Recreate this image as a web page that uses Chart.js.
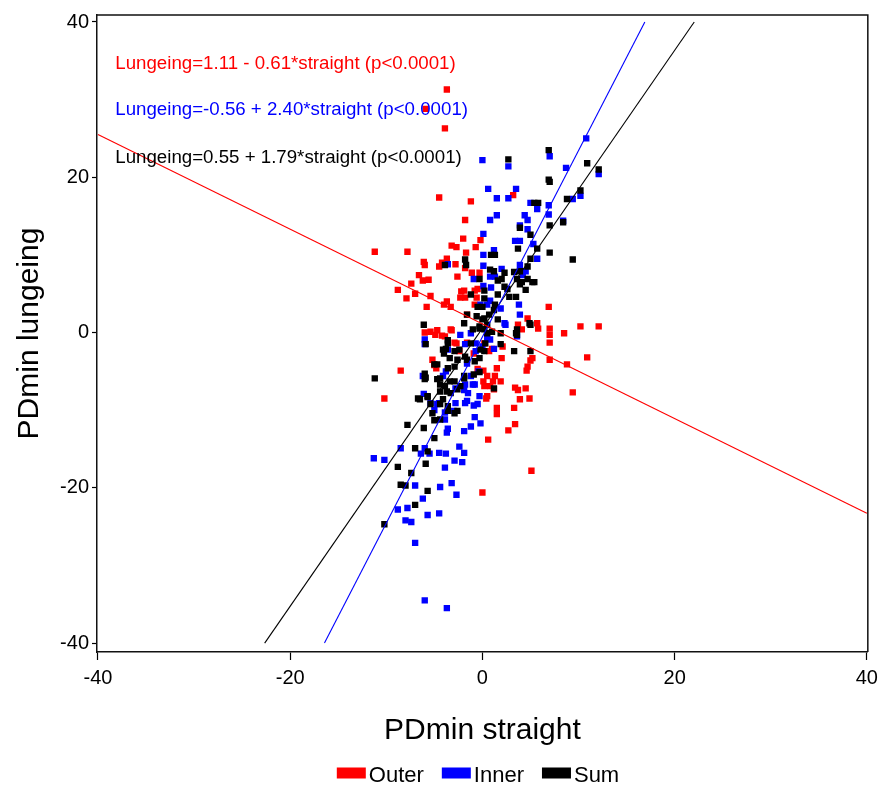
<!DOCTYPE html>
<html>
<head>
<meta charset="utf-8">
<script src="https://cdn.jsdelivr.net/npm/chart.js@4.4.1/dist/chart.umd.min.js"></script>
<style>
  html, body { margin: 0; padding: 0; background: #fff; }
  #wrap { width: 884px; height: 786px; }
</style>
</head>
<body>
<div id="wrap"><canvas id="chart-pdmin"></canvas></div>
<script>
// PDmin straight (x) vs PDmin lungeing (y)
var outerPts = [
  [-3.7,31.3],[-5.9,28.8],[-3.9,26.3],[3.2,17.7],[-4.5,17.4],[-1.2,16.9],[-1.8,14.5],[-2.0,12.1],
  [-3.2,11.2],[-2.7,11.0],[-1.7,10.3],[-0.7,11.0],[-0.2,11.9],[-11.2,10.4],[-7.8,10.4],[-6.1,9.1],
  [-6.0,8.7],[-4.2,9.0],[-3.7,9.5],[-4.5,8.5],[-2.8,8.8],[-1.8,8.3],[-6.6,7.4],[-7.4,6.3],
  [-6.2,6.7],[-5.6,6.8],[-2.6,7.2],[-1.1,7.7],[-0.3,7.7],[-8.8,5.5],[-7.0,5.0],[-5.4,4.7],
  [-2.2,5.3],[-0.8,5.4],[-1.8,4.5],[-0.6,4.5],[-2.3,4.5],[-3.7,4.0],[-7.9,4.4],[-5.8,3.3],
  [-4.0,3.6],[-3.3,3.3],[-1.9,5.4],[-0.5,5.6],[-0.8,3.6],[-1.6,2.3],[-6.0,0.0],[-5.4,0.1],
  [-4.9,-0.3],[-4.2,-0.4],[-3.2,0.3],[-2.7,-1.4],[-1.6,-1.3],[0.2,-1.4],[0.7,-2.4],[2.1,-1.8],
  [3.7,1.0],[4.1,0.4],[4.7,1.8],[5.7,1.2],[5.8,0.5],[6.9,3.3],[7.0,0.5],[7.0,-0.3],
  [7.0,-1.3],[8.5,-0.1],[10.2,0.8],[12.1,0.8],[-5.2,-3.5],[-5.0,-4.2],[-8.5,-4.9],[-10.2,-8.5],
  [1.0,-2.1],[2.0,-3.3],[5.0,-3.6],[4.7,-4.4],[4.6,-4.9],[5.2,-3.3],[7.0,-3.5],[8.8,-4.1],
  [10.9,-3.2],[9.4,-7.7],[0.1,-4.9],[0.1,-6.3],[0.2,-6.9],[0.8,-6.9],[1.1,-6.3],[1.9,-6.3],
  [1.3,-5.6],[1.2,-7.3],[0.4,-8.5],[3.4,-7.1],[3.7,-7.4],[4.5,-7.2],[3.9,-8.6],[4.9,-8.5],
  [3.3,-9.7],[1.5,-9.7],[1.5,-10.5],[3.4,-11.8],[2.7,-12.6],[0.6,-13.8],[5.1,-17.8],[0.0,-20.6],
  [-3.3,0.4],[-4.7,0.3],[-3.9,-0.5],[-2.9,-1.3],[-4.8,-4.6],[-0.5,-4.7],[0.5,-8.2],[1.5,-4.6],
  [0.5,-5.6],[-2.4,-2.4],[-0.9,-2.7]
];

var innerPts = [
  [0.0,22.2],[0.6,18.5],[2.7,21.4],[10.8,25.0],[8.7,21.2],[7.0,22.7],[12.1,20.4],[1.5,17.3],
  [2.7,17.3],[3.5,18.5],[5.0,16.7],[5.7,15.9],[6.9,16.4],[10.2,17.6],[9.4,17.2],[1.5,15.1],
  [0.8,14.5],[0.1,12.7],[4.4,15.1],[4.7,14.5],[3.9,13.8],[4.7,13.3],[6.9,15.2],[8.4,14.4],
  [3.4,11.8],[3.9,11.8],[5.3,11.4],[0.1,10.0],[0.1,8.6],[1.2,10.6],[5.7,9.5],[3.9,8.7],
  [4.5,7.9],[2.0,8.2],[-3.6,8.8],[0.8,7.2],[4.2,7.4],[-0.9,6.9],[0.1,6.0],[0.9,5.8],
  [1.3,7.2],[0.5,3.6],[1.9,3.1],[2.3,1.2],[3.8,3.6],[3.9,2.3],[-2.3,-0.3],[-6.0,-0.9],
  [-6.0,-1.5],[-1.8,-1.5],[-0.7,-1.4],[-0.7,-2.4],[1.2,-2.1],[-3.8,-5.0],[-6.2,-5.6],[-1.0,-6.7],
  [-1.9,-7.4],[-1.6,-8.8],[-0.9,-9.4],[-0.5,-9.2],[-0.8,-10.9],[-0.2,-11.7],[-4.7,-9.2],[-3.9,-11.2],
  [-3.6,-12.4],[-1.9,-12.7],[-1.2,-12.1],[-8.5,-14.9],[-6.0,-14.9],[-5.5,-15.6],[-6.4,-15.6],[-4.5,-15.5],
  [-3.8,-15.6],[-2.9,-16.5],[-2.1,-16.7],[-11.3,-16.2],[-10.2,-16.4],[-3.9,-17.4],[-2.4,-14.7],[-1.9,-15.5],
  [-3.7,-12.9],[-5.0,-10.0],[-3.9,-10.3],[-3.0,-10.1],[-4.4,-19.9],[-3.2,-19.4],[-2.7,-20.9],[-7.0,-19.7],
  [-6.2,-21.4],[-7.8,-22.6],[-8.8,-22.8],[-5.7,-23.5],[-4.5,-23.3],[-8.0,-24.2],[-7.4,-24.4],[-7.0,-27.1],
  [-6.0,-34.5],[-3.7,-35.5],[-3.6,-2.2],[-1.2,-0.1],[-0.2,3.6],[-4.1,-5.6],[-1.2,-5.6],[-1.8,-6.7],
  [-0.8,-6.7],[-6.1,-7.9],[-5.4,-9.1],[-4.5,-9.1],[-2.8,-9.1],[-1.8,-9.1],[-1.5,-7.8],[-0.3,-8.2],
  [-2.8,-7.2],[0.5,-0.8],[0.8,-0.9],[-1.6,-4.0],[0.8,4.1],[2.4,1.0],[3.6,-0.5],[0.0,-1.8],
  [-0.4,-5.0]
];

var sumPts = [
  [6.9,23.5],[2.7,22.3],[10.9,21.8],[12.1,21.0],[6.9,19.7],[7.0,19.4],[10.2,18.3],[8.8,17.2],
  [5.4,16.7],[5.8,16.7],[7.0,13.8],[8.4,14.2],[3.9,13.5],[5.0,12.6],[5.7,10.8],[3.7,10.8],
  [7.0,10.3],[9.4,9.4],[0.9,10.0],[1.3,10.0],[1.2,7.9],[-3.9,8.7],[-1.8,9.4],[-1.7,8.7],
  [5.0,9.5],[4.7,8.5],[3.3,7.8],[0.8,8.1],[2.3,7.7],[3.9,7.9],[3.6,6.9],[4.7,6.9],
  [5.4,6.5],[1.6,6.7],[2.0,6.9],[0.2,5.4],[2.6,5.6],[3.9,6.2],[4.5,5.5],[3.5,4.6],
  [1.6,4.9],[-0.3,6.9],[2.3,5.9],[4.1,6.5],[5.2,6.5],[2.8,4.6],[0.2,4.4],[-1.2,4.9],
  [1.3,3.6],[-1.6,2.3],[-0.6,2.1],[0.2,1.8],[0.5,1.0],[-0.3,0.5],[1.0,0.1],[1.9,-0.1],
  [5.0,1.0],[3.6,-0.3],[5.0,-2.4],[3.3,-2.4],[1.9,-1.5],[0.3,-1.4],[-0.2,-2.2],[-6.1,1.0],
  [-5.9,-1.5],[-3.6,-1.4],[-3.8,-2.1],[-4.0,-2.7],[-3.4,-3.3],[-2.9,-2.4],[-2.4,-2.2],[-1.6,-3.5],
  [-0.3,-3.3],[-4.7,-4.1],[-3.6,-4.6],[-6.0,-5.3],[-6.0,-6.0],[-4.4,-5.9],[-3.9,-6.9],[-3.7,-7.6],
  [-4.4,-7.6],[-2.9,-6.3],[-2.6,-7.3],[-1.9,-5.9],[-0.9,-5.4],[-0.3,-5.1],[1.2,-7.2],[-11.2,-5.9],
  [-6.7,-8.5],[-5.7,-8.3],[-5.4,-9.2],[-5.2,-10.4],[-5.0,-11.3],[-4.4,-9.2],[-3.6,-10.1],[-2.9,-10.4],
  [-7.8,-11.9],[-6.1,-12.3],[-5.7,-15.3],[-7.0,-14.9],[-5.0,-13.6],[-8.8,-17.3],[-5.9,-16.9],[-7.4,-18.1],
  [-8.5,-19.6],[-8.0,-19.7],[-5.7,-20.4],[-7.0,-22.2],[-4.4,-11.2],[-2.6,-10.1],[-10.2,-24.7],[-3.6,-1.0],
  [-4.1,-2.2],[-5.0,-4.1],[-2.9,-4.4],[-2.6,-3.5],[-1.8,-3.1],[-0.8,-3.7],[0.2,-2.4],[-1.2,-1.4],
  [-1.9,1.2],[-1.0,0.4],[-0.3,0.8],[0.2,0.4],[0.0,1.7],[0.7,2.3],[1.2,2.9],[-0.5,3.3],
  [-4.7,-6.0],[-4.4,-6.7],[-3.4,-6.3],[-5.9,-5.8],[-3.3,-7.8],[-2.3,-6.9],[-1.9,-5.6],[-4.1,-8.6],
  [-5.7,-8.2],[-6.5,-8.6],[-3.6,-9.5],[0.0,3.3],[1.6,1.7],[4.9,1.2],[3.5,-0.1],[3.6,0.4],
  [0.5,-0.1]
];

var groupLabels = ['Outer', 'Inner', 'Sum'];
var groupColors = ['#ff0000', '#0000ff', '#000000'];

// regression lines: Lungeing = a + b*straight
var fitIntercepts = [1.11, -0.56, 0.55];
var fitSlopes = [-0.61, 2.40, 1.79];
var fitTexts = [
  'Lungeing=1.11 - 0.61*straight (p<0.0001)',
  'Lungeing=-0.56 + 2.40*straight (p<0.0001)',
  'Lungeing=0.55 + 1.79*straight (p<0.0001)'
];

var xTicks = [-40, -20, 0, 20, 40];
var yTicks = [-40, -20, 0, 20, 40];
var LIM = 40;

function toXY(arr) {
  return arr.map(function (p) { return { x: p[0], y: p[1] }; });
}

// end points of a fit line kept inside -40..40 on both axes
function fitLine(a, b) {
  var x1 = (-LIM - a) / b, x2 = (LIM - a) / b;
  var lo = Math.max(-LIM, Math.min(x1, x2));
  var hi = Math.min(LIM, Math.max(x1, x2));
  return [{ x: lo, y: a + b * lo }, { x: hi, y: a + b * hi }];
}

Chart.defaults.font.family = '"Liberation Sans", Arial, sans-serif';
Chart.defaults.color = '#000';

var groupPts = [outerPts, innerPts, sumPts];
var datasets = [];
for (var i = 0; i < 3; i++) {
  datasets.push({
    label: groupLabels[i],
    data: toXY(groupPts[i]),
    backgroundColor: groupColors[i],
    borderWidth: 0,
    pointStyle: 'rect',
    pointRadius: 4.5,
    order: 3 - i + 1
  });
}
for (var k = 0; k < 3; k++) {
  datasets.push({
    label: 'fit' + k,
    type: 'line',
    data: fitLine(fitIntercepts[k], fitSlopes[k]),
    borderColor: groupColors[k],
    borderWidth: 1.1,
    pointRadius: 0,
    fill: false,
    order: 0
  });
}

var framePlugin = {
  id: 'frame',
  afterDraw: function (chart) {
    var a = chart.chartArea, ctx = chart.ctx;
    ctx.save();
    ctx.strokeStyle = '#111';
    ctx.lineWidth = 1.5;
    ctx.beginPath();
    ctx.moveTo(a.left, a.top);
    ctx.lineTo(a.right, a.top);
    ctx.lineTo(a.right, a.bottom);
    ctx.stroke();
    ctx.restore();
  }
};

// equations written inside the plot
var fitTextPlugin = {
  id: 'fitText',
  afterDatasetsDraw: function (chart) {
    var ctx = chart.ctx, xs = chart.scales.x, ys = chart.scales.y;
    var rows = [33.9, 28.0, 21.9];
    ctx.save();
    ctx.font = '18.7px "Liberation Sans", Arial, sans-serif';
    ctx.textBaseline = 'alphabetic';
    ctx.textAlign = 'left';
    for (var i = 0; i < fitTexts.length; i++) {
      ctx.fillStyle = groupColors[i];
      ctx.fillText(fitTexts[i], xs.getPixelForValue(-38.2), ys.getPixelForValue(rows[i]));
    }
    ctx.restore();
  }
};

// legend with the box close to its label
var legendPlugin = {
  id: 'boxLegend',
  afterDraw: function (chart) {
    var ctx = chart.ctx;
    var boxW = 29, boxH = 11, gapIn = 3, gapOut = 18, cy = 773;
    ctx.save();
    ctx.font = '22px "Liberation Sans", Arial, sans-serif';
    var total = 0;
    for (var i = 0; i < 3; i++) {
      total += boxW + gapIn + ctx.measureText(groupLabels[i]).width;
      if (i < 2) total += gapOut;
    }
    var x = 478 - total / 2;
    ctx.textBaseline = 'alphabetic';
    for (var j = 0; j < 3; j++) {
      ctx.fillStyle = chart.data.datasets[j].backgroundColor;
      ctx.fillRect(x, cy - boxH / 2, boxW, boxH);
      x += boxW + gapIn;
      ctx.fillStyle = '#000';
      ctx.fillText(groupLabels[j], x, cy + 9);
      x += ctx.measureText(groupLabels[j]).width + gapOut;
    }
    ctx.restore();
  }
};

var chart = new Chart(document.getElementById('chart-pdmin'), {
  type: 'scatter',
  data: { datasets: datasets },
  plugins: [framePlugin, fitTextPlugin, legendPlugin],
  options: {
    responsive: true,
    maintainAspectRatio: false,
    animation: false,
    events: [],
    layout: { padding: { top: 11, right: 14, bottom: 34, left: 0 } },
    plugins: {
      legend: { display: false },
      tooltip: { enabled: false }
    },
    scales: {
      x: {
        type: 'linear',
        position: 'bottom',
        min: -40.1,
        max: 40.1,
        afterBuildTicks: function (s) { s.ticks = xTicks.map(function (v) { return { value: v }; }); },
        afterFit: function (s) { s.height = 100; },
        ticks: { font: { size: 20 }, color: '#000', padding: 6, maxRotation: 0, autoSkip: false },
        grid: { drawOnChartArea: false, tickLength: 8, color: '#000', tickWidth: 1.2 },
        border: { display: true, color: '#111', width: 1.5 },
        title: { display: true, text: 'PDmin straight', font: { size: 30 }, color: '#000', padding: { top: 4, bottom: 3 } }
      },
      y: {
        type: 'linear',
        min: -41.15,
        max: 40.9,
        afterBuildTicks: function (s) { s.ticks = yTicks.map(function (v) { return { value: v }; }); },
        afterFit: function (s) { s.width = 97; },
        ticks: { font: { size: 20 }, color: '#000', padding: 3, autoSkip: false },
        grid: { drawOnChartArea: false, tickLength: 5, color: '#000', tickWidth: 1.2 },
        border: { display: true, color: '#111', width: 1.5 },
        title: { display: true, text: 'PDmin lungeing', font: { size: 30 }, color: '#000', padding: { top: 12, bottom: 0 } }
      }
    }
  }
});
</script>
</body>
</html>
